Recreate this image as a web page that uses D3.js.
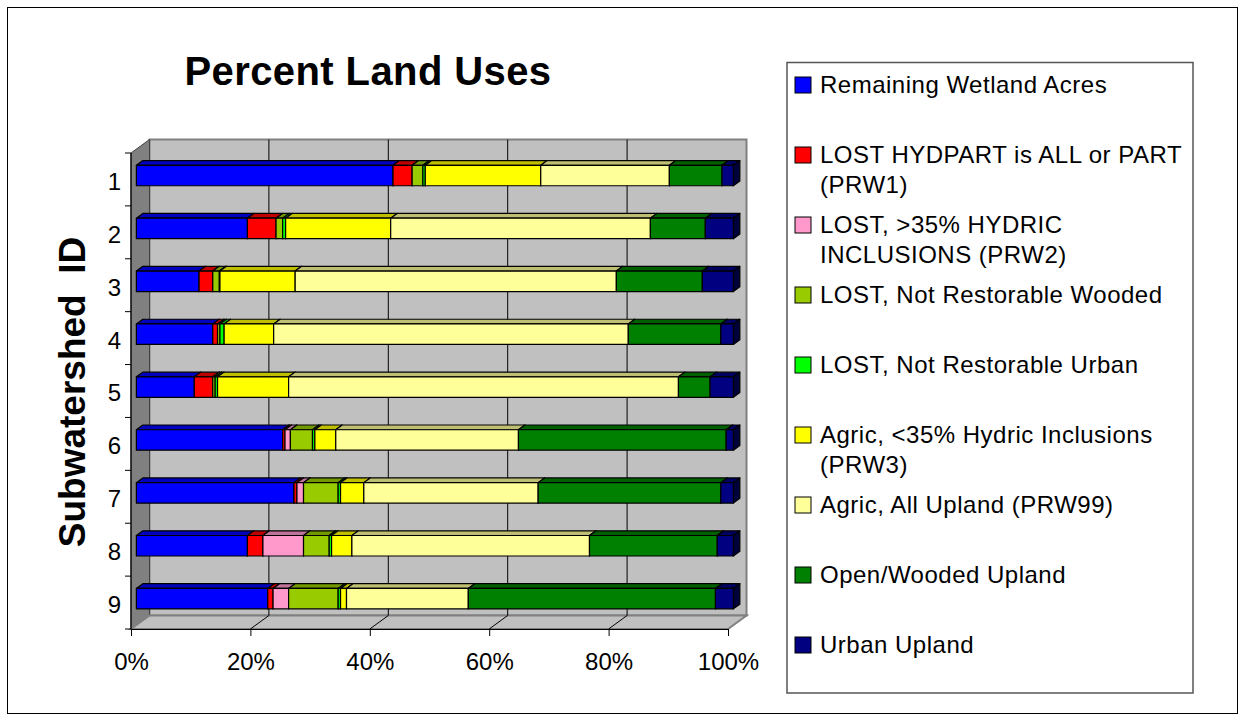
<!DOCTYPE html>
<html>
<head>
<meta charset="utf-8">
<script src="https://cdn.jsdelivr.net/npm/d3@7/dist/d3.min.js"></script>
<style>
  html, body { margin: 0; padding: 0; background: #fff; }
  svg { display: block; font-family: "Liberation Sans", Arial, sans-serif; }
</style>
</head>
<body>
<svg id="chart" width="1238" height="721"></svg>
<script>
// ---------------- DATA ----------------
const categories = ["1", "2", "3", "4", "5", "6", "7", "8", "9"];

const seriesNames = [
  "Remaining Wetland Acres",
  "LOST HYDPART is ALL or PART (PRW1)",
  "LOST, >35% HYDRIC INCLUSIONS (PRW2)",
  "LOST, Not Restorable Wooded",
  "LOST, Not Restorable Urban",
  "Agric, <35% Hydric Inclusions (PRW3)",
  "Agric, All Upland (PRW99)",
  "Open/Wooded Upland",
  "Urban Upland"
];

const legendLines = [
  ["Remaining Wetland Acres"],
  ["LOST HYDPART is ALL or PART", "(PRW1)"],
  ["LOST, >35% HYDRIC", "INCLUSIONS (PRW2)"],
  ["LOST, Not Restorable Wooded"],
  ["LOST, Not Restorable Urban"],
  ["Agric, <35% Hydric Inclusions", "(PRW3)"],
  ["Agric, All Upland (PRW99)"],
  ["Open/Wooded Upland"],
  ["Urban Upland"]
];

const seriesColors = ["#0000FF", "#FF0000", "#FF99CC", "#99CC00", "#00FF00",
                      "#FFFF00", "#FFFF99", "#008000", "#000080"];

// percent of each subwatershed (per series, ordered by category)
const remainingWetland = [42.9, 18.6, 10.5, 12.8, 9.7, 24.5, 26.4, 18.6, 22.0];
const lostHydpart      = [3.2, 4.8, 2.3, 0.8, 3.1, 0.4, 0.5, 2.6, 0.9];
const lostHydric       = [0, 0, 0, 0, 0, 0.9, 1.1, 6.8, 2.6];
const lostWooded       = [1.8, 1.1, 1.1, 0.4, 0.4, 3.7, 5.8, 4.3, 8.3];
const lostUrban        = [0.4, 0.5, 0.1, 0.7, 0.4, 0.4, 0.4, 0.4, 0.4];
const agricPRW3        = [19.3, 17.6, 12.6, 8.3, 11.9, 3.5, 3.9, 3.4, 1.0];
const agricUpland      = [21.5, 43.5, 53.8, 59.4, 65.3, 30.6, 29.2, 39.8, 20.4];
const openWooded       = [8.8, 9.2, 14.4, 15.5, 5.3, 34.8, 30.6, 21.4, 41.4];
const urbanUpland      = [1.9, 4.7, 5.2, 2.1, 3.9, 1.2, 2.1, 2.7, 3.0];

const xTickValues = [0, 0.2, 0.4, 0.6, 0.8, 1.0];

const titleText = "Percent Land Uses";
const yTitleText = "Subwatershed  ID";

// ---------------- BUILD ----------------
const seriesValues = [remainingWetland, lostHydpart, lostHydric, lostWooded, lostUrban,
                      agricPRW3, agricUpland, openWooded, urbanUpland];
const keys = seriesNames;
const rows = categories.map((c, i) => {
  const r = { cat: c };
  keys.forEach((k, j) => r[k] = seriesValues[j][i]);
  return r;
});
const colorOf = d3.scaleOrdinal().domain(keys).range(seriesColors);

const svg = d3.select("#chart");
const FONT = '"Liberation Sans", Arial, sans-serif';

// geometry
const X0 = 131, X1 = 728, YT = 153, YB = 629;
const DX = 18.5, DY = -13.5;       // full depth vector
const T0 = 0.29, T1 = 0.64;        // bar depth (front / back)

const x = d3.scaleLinear().domain([0, 1]).range([X0, X1]);
const y = d3.scaleBand().domain(categories).range([YT, YB])
  .paddingInner(0.613).paddingOuter(0.3065);

// outer chart border
svg.append("rect").attr("x", 7.5).attr("y", 7.5).attr("width", 1230).attr("height", 706)
  .attr("fill", "#fff").attr("stroke", "#000").attr("stroke-width", 1);

// title
svg.append("text").attr("x", 368).attr("y", 85).attr("text-anchor", "middle")
  .attr("font-size", 40).attr("font-weight", "bold").attr("letter-spacing", 0.4)
  .attr("fill", "#000").text(titleText);

// y title
svg.append("text")
  .attr("transform", "translate(85,392) rotate(-90)")
  .attr("text-anchor", "middle").attr("font-size", 37).attr("font-weight", "bold")
  .style("white-space", "pre").attr("fill", "#000").text(yTitleText);

// walls
const g = svg.append("g");
g.append("rect").attr("x", X0 + DX).attr("y", YT + DY)
  .attr("width", X1 - X0).attr("height", YB - YT)
  .attr("fill", "#C0C0C0").attr("stroke", "#808080").attr("stroke-width", 2);
g.append("polygon")
  .attr("points", [[X0, YT], [X0 + DX, YT + DY], [X0 + DX, YB + DY], [X0, YB]].map(p => p.join(",")).join(" "))
  .attr("fill", "#808080").attr("stroke", "#404040").attr("stroke-width", 1);
g.append("polygon")
  .attr("points", [[X0, YB], [X0 + DX, YB + DY], [X1 + DX, YB + DY], [X1, YB]].map(p => p.join(",")).join(" "))
  .attr("fill", "#C0C0C0").attr("stroke", "#808080").attr("stroke-width", 2);

// gridlines (back wall + floor)
const inner = xTickValues.filter(v => v > 0 && v < 1);
g.selectAll(".gridv").data(inner).enter().append("line")
  .attr("x1", d => x(d) + DX).attr("x2", d => x(d) + DX)
  .attr("y1", YT + DY).attr("y2", YB + DY)
  .attr("stroke", "#000").attr("stroke-width", 1);
g.selectAll(".gridf").data(inner).enter().append("line")
  .attr("x1", d => x(d)).attr("x2", d => x(d) + DX)
  .attr("y1", YB).attr("y2", YB + DY)
  .attr("stroke", "#000").attr("stroke-width", 1);

// bars
const stacked = d3.stack().keys(keys).offset(d3.stackOffsetExpand)(rows);
const shade = (c, k) => { const r = d3.rgb(c); return d3.rgb(r.r * k, r.g * k, r.b * k).formatHex(); };
const bars = svg.append("g");
const ox = T0 * DX, oy = T0 * DY;
const ddx = (T1 - T0) * DX, ddy = (T1 - T0) * DY;

stacked.forEach(layer => {
  const col = colorOf(layer.key);
  layer.forEach(seg => {
    const a = seg[0], b = seg[1];
    if (b - a < 1e-6) return;
    const c = seg.data.cat;
    const xa = x(a) + ox, xb = x(b) + ox;
    const yt = y(c) + oy, yb = yt + y.bandwidth();
    const gg = bars.append("g").attr("stroke", "#000").attr("stroke-width", 1.2)
      .attr("stroke-linejoin", "round");
    // right side
    gg.append("polygon")
      .attr("points", [[xb, yt], [xb + ddx, yt + ddy], [xb + ddx, yb + ddy], [xb, yb]].map(p => p.join(",")).join(" "))
      .attr("fill", shade(col, 0.45));
    // top
    gg.append("polygon")
      .attr("points", [[xa, yt], [xa + ddx, yt + ddy], [xb + ddx, yt + ddy], [xb, yt]].map(p => p.join(",")).join(" "))
      .attr("fill", shade(col, 0.75));
    // front
    gg.append("rect").attr("x", xa).attr("y", yt)
      .attr("width", xb - xa).attr("height", yb - yt).attr("fill", col);
  });
});

// bottom axis
const xAxis = d3.axisBottom(x).tickValues(xTickValues)
  .tickFormat(d3.format(".0%")).tickSize(7).tickSizeOuter(0);
const xa = svg.append("g").attr("transform", `translate(0,${YB})`).call(xAxis);
xa.select(".domain").attr("stroke", "#000").attr("stroke-width", 1.2);
xa.selectAll(".tick line").attr("stroke", "#000");
xa.selectAll(".tick text").attr("font-family", FONT).attr("font-size", 24)
  .attr("fill", "#000").attr("dy", null).attr("y", 41);

// left axis (line + category boundary ticks + labels)
const la = svg.append("g");
la.append("line").attr("x1", X0).attr("x2", X0).attr("y1", YT).attr("y2", YB)
  .attr("stroke", "#000").attr("stroke-width", 1.2);
const bounds = d3.range(categories.length + 1).map(i => YT + i * y.step());
la.selectAll(".yt").data(bounds).enter().append("line")
  .attr("x1", X0 - 6).attr("x2", X0).attr("y1", d => d).attr("y2", d => d)
  .attr("stroke", "#000").attr("stroke-width", 1);
la.selectAll(".yl").data(categories).enter().append("text")
  .attr("x", 121).attr("y", d => y(d) + y.bandwidth() / 2 + 2)
  .attr("dy", "0.35em").attr("text-anchor", "end")
  .attr("font-size", 24).attr("fill", "#000").text(d => d);

// legend
const lg = svg.append("g");
lg.append("rect").attr("x", 787).attr("y", 62.5).attr("width", 406).attr("height", 630.5)
  .attr("fill", "#fff").attr("stroke", "#555").attr("stroke-width", 1.5);
keys.forEach((k, i) => {
  const base = 93 + 70 * i;
  lg.append("rect").attr("x", 795).attr("y", base - 16).attr("width", 16).attr("height", 16)
    .attr("fill", colorOf(k)).attr("stroke", "#000").attr("stroke-width", 1);
  const t = lg.append("text").attr("x", 820).attr("y", base)
    .attr("font-size", 24).attr("letter-spacing", 0.5).attr("fill", "#000");
  legendLines[i].forEach((ln, j) => {
    t.append("tspan").attr("x", 820).attr("dy", j === 0 ? 0 : 30).text(ln);
  });
});
</script>
</body>
</html>
